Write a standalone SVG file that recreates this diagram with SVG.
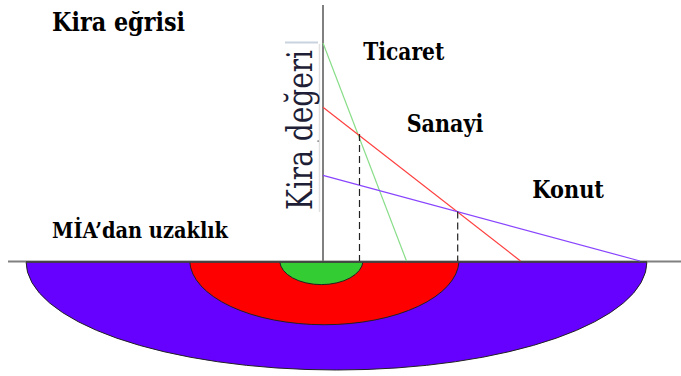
<svg xmlns="http://www.w3.org/2000/svg" width="681" height="376" viewBox="0 0 681 376">
<style>
.lbl{font-family:"DejaVu Serif",serif;font-weight:bold;fill:#000}
.vlbl{font-family:"DejaVu Serif",serif;font-weight:normal}
.zone{stroke:#222;stroke-width:1}
.dash{stroke:#222;stroke-width:1.2;stroke-dasharray:7,4;fill:none}
.axis{stroke:#808080;stroke-width:2;fill:none}
</style>
<rect width="681" height="376" fill="#fff"/>
<g id="zones">
<g id="konut-zone"><path class="zone" d="M26,261.5 A310.5,108.5 0 0 0 647,261.5 Z" fill="#6600ff"/></g>
<g id="sanayi-zone"><path class="zone" d="M189.7,261.5 A134.7,65 0 0 0 459,261.5 Z" fill="#ff0000"/></g>
<g id="ticaret-zone"><path class="zone" d="M279.7,261.5 A41.7,24.3 0 0 0 363,261.5 Z" fill="#33cc33"/></g>
</g>
<g id="axes">
<line class="axis" x1="323" y1="5" x2="323" y2="261"/>
<line class="axis" x1="8" y1="261.5" x2="681" y2="261.5"/>
<line x1="26" y1="262" x2="647" y2="262" stroke="#333" stroke-width="1.5"/>
</g>
<g id="connectors">
<line x1="323" y1="43" x2="406.5" y2="261" stroke="#88dd88" stroke-width="1.2"/>
<line x1="323" y1="107.3" x2="520.5" y2="261" stroke="#ff4040" stroke-width="1.2"/>
<line x1="323" y1="175.3" x2="640" y2="261" stroke="#8844ff" stroke-width="1.2"/>
<line class="dash" x1="359.5" y1="134" x2="359.5" y2="261"/>
<line class="dash" x1="457.7" y1="211.5" x2="457.7" y2="261" stroke="#444"/>
</g>
<g id="axis-label">
<line x1="285" y1="42.5" x2="318" y2="42.5" stroke="#c9d3e0" stroke-width="2"/>
<line x1="319.5" y1="44" x2="319.5" y2="212" stroke="#e0e0e0" stroke-width="1.5"/>
<text class="vlbl" transform="translate(312,210) rotate(-90)" font-size="36" fill="#1e1e36" textLength="160" lengthAdjust="spacingAndGlyphs">Kira değeri</text>
<rect x="317.5" y="140.5" width="1.2" height="1.2" fill="#333"/>
</g>
<g id="title"><text class="lbl" x="52" y="31" font-size="26" textLength="133" lengthAdjust="spacingAndGlyphs">Kira eğrisi</text></g>
<g id="ticaret"><text class="lbl" x="363.3" y="60" font-size="24" textLength="81" lengthAdjust="spacingAndGlyphs">Ticaret</text></g>
<g id="sanayi"><text class="lbl" x="406.7" y="131.7" font-size="24" textLength="76.6" lengthAdjust="spacingAndGlyphs">Sanayi</text></g>
<g id="konut"><text class="lbl" x="532.3" y="198.3" font-size="24" textLength="71.7" lengthAdjust="spacingAndGlyphs">Konut</text></g>
<g id="mia"><text class="lbl" x="52" y="237.7" font-size="22" textLength="176" lengthAdjust="spacingAndGlyphs">MİA’dan uzaklık</text></g>
</svg>
